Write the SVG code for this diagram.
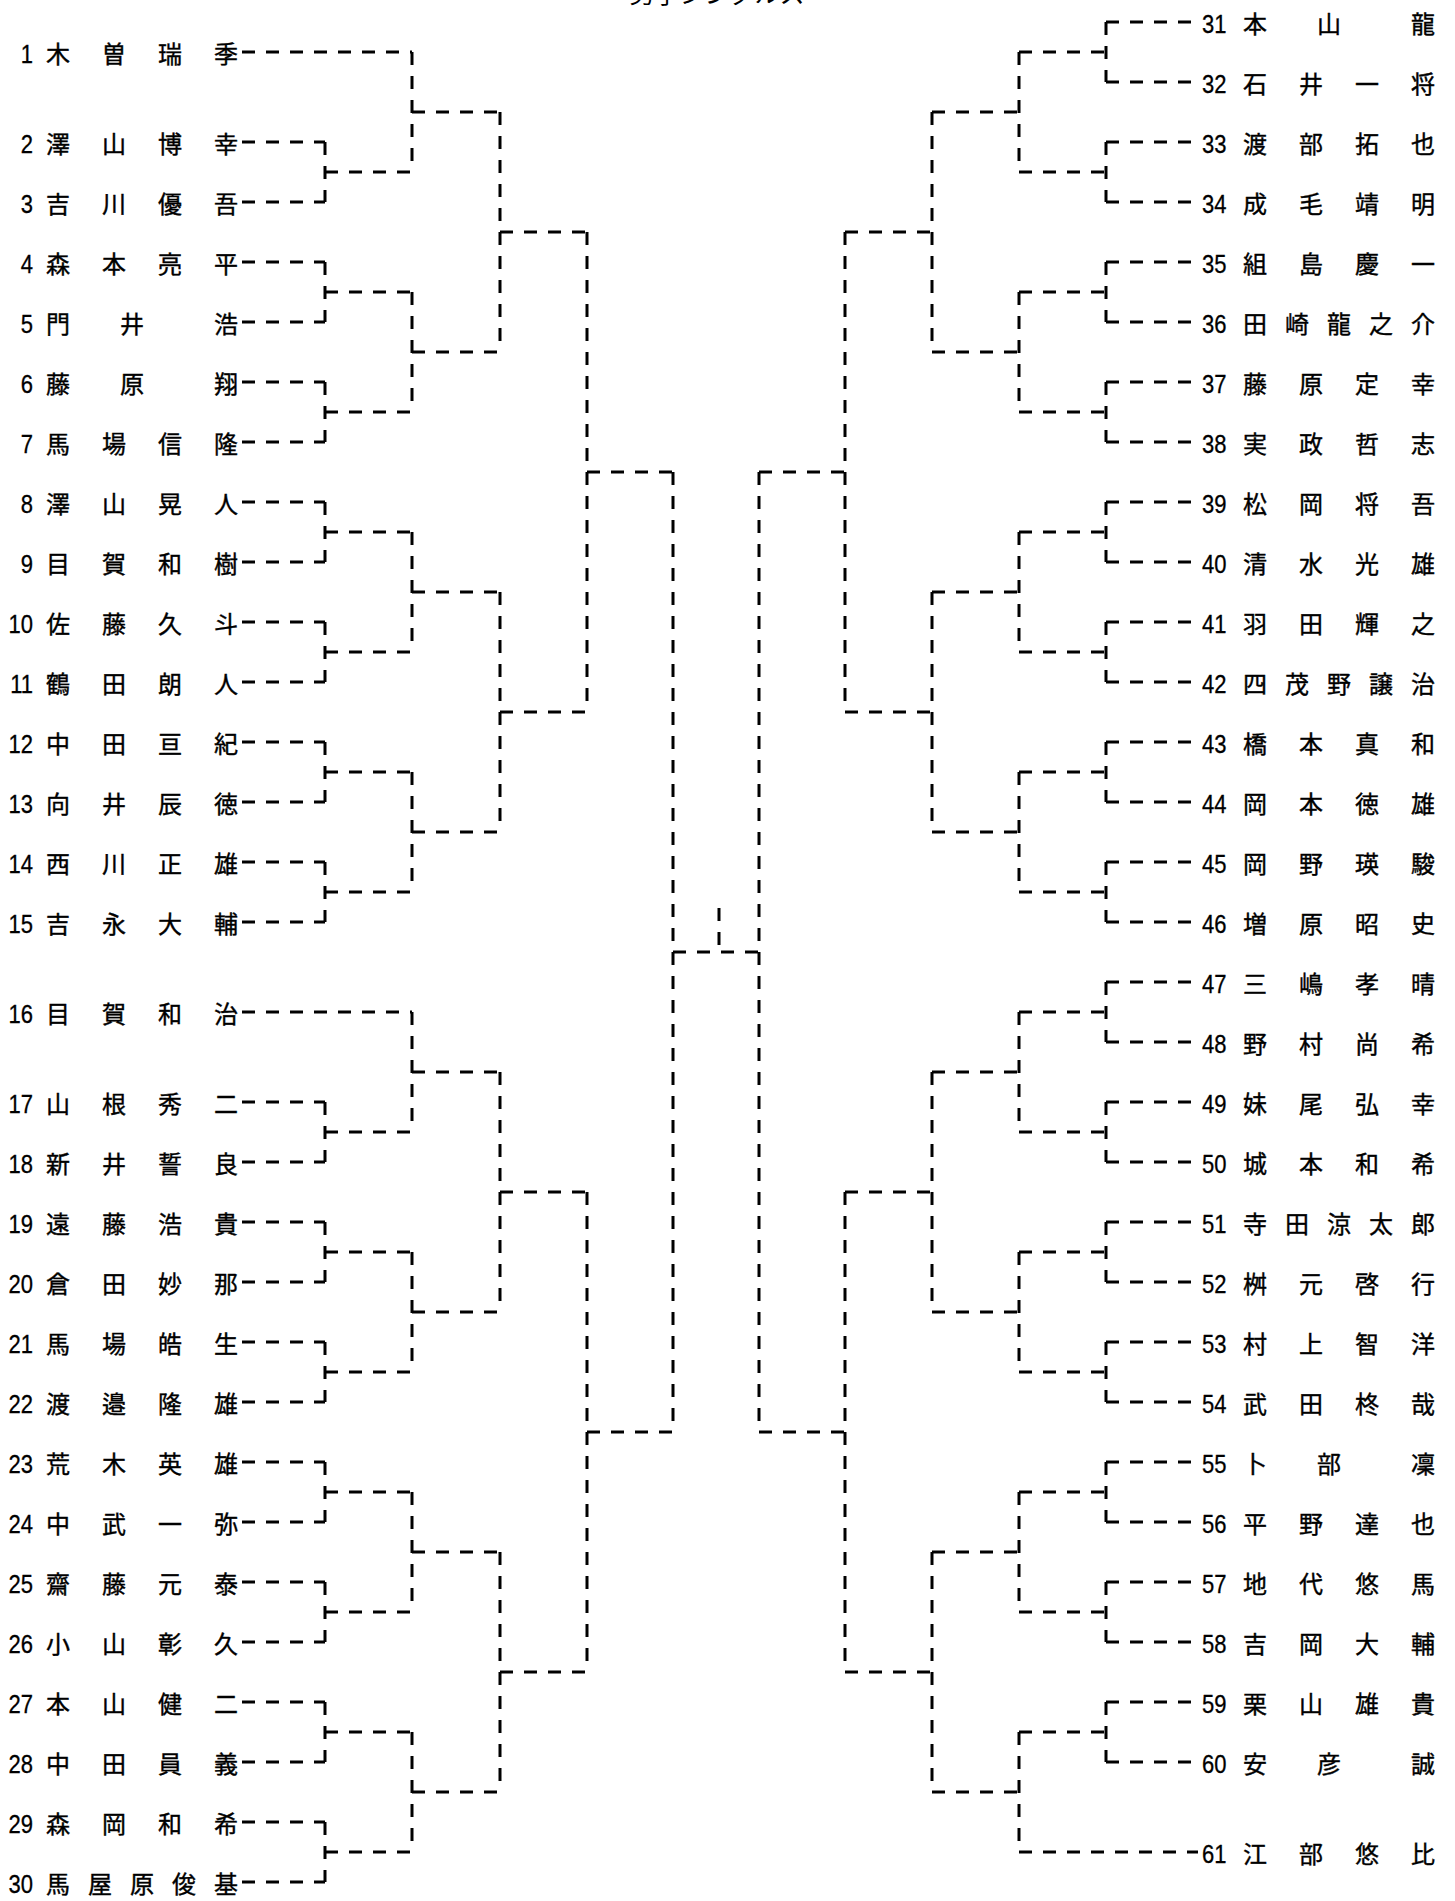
<svg xmlns="http://www.w3.org/2000/svg" width="1455" height="1901" viewBox="0 0 1455 1901">
<style>
.c{fill:none;stroke:#000;stroke-width:3;stroke-dasharray:13 11}
.n{font-family:"Liberation Sans",sans-serif;font-size:25px;fill:#000;stroke:#000;stroke-width:.3;transform:scaleX(.88);transform-box:fill-box;transform-origin:0% 50%}
.m{font-family:"Noto Sans CJK JP",sans-serif;font-size:24px;fill:#000;stroke:#000;stroke-width:.4}
.r{text-anchor:end;transform-origin:100% 50%}
.t{font-family:"Noto Sans CJK JP",sans-serif;font-size:25px;text-anchor:middle;fill:#000}
</style>
<rect width="1455" height="1901" fill="#fff"/>
<text class="t" x="717" y="3">男子シングルス</text>
<g id="connectors">
<path class="c" d="M242 52H412 M242 142H325 M242 202H325 M242 262H325 M242 322H325 M242 382H325 M242 442H325 M242 502H325 M242 562H325 M242 622H325 M242 682H325 M242 742H325 M242 802H325 M242 862H325 M242 922H325 M242 1012H412 M242 1102H325 M242 1162H325 M242 1222H325 M242 1282H325 M242 1342H325 M242 1402H325 M242 1462H325 M242 1522H325 M242 1582H325 M242 1642H325 M242 1702H325 M242 1762H325 M242 1822H325 M242 1882H325"/>
<path class="c" d="M325 142V202 M325 262V322 M325 382V442 M325 502V562 M325 622V682 M325 742V802 M325 862V922 M325 1102V1162 M325 1222V1282 M325 1342V1402 M325 1462V1522 M325 1582V1642 M325 1702V1762 M325 1822V1882"/>
<path class="c" d="M325 172H412 M325 292H412 M325 412H412 M325 532H412 M325 652H412 M325 772H412 M325 892H412 M325 1132H412 M325 1252H412 M325 1372H412 M325 1492H412 M325 1612H412 M325 1732H412 M325 1852H412"/>
<path class="c" d="M412 52V172 M412 292V412 M412 532V652 M412 772V892 M412 1012V1132 M412 1252V1372 M412 1492V1612 M412 1732V1852"/>
<path class="c" d="M412 112H500 M412 352H500 M412 592H500 M412 832H500 M412 1072H500 M412 1312H500 M412 1552H500 M412 1792H500"/>
<path class="c" d="M500 112V352 M500 592V832 M500 1072V1312 M500 1552V1792"/>
<path class="c" d="M500 232H587 M500 712H587 M500 1192H587 M500 1672H587"/>
<path class="c" d="M587 232V712 M587 1192V1672"/>
<path class="c" d="M587 472H673 M587 1432H673"/>
<path class="c" d="M673 472V1432"/>
<path class="c" d="M673 952H759 M719 908V952"/>
<path class="c" d="M759 472V1432"/>
<path class="c" d="M759 472H845 M759 1432H845"/>
<path class="c" d="M845 232V712 M845 1192V1672"/>
<path class="c" d="M845 232H932 M845 712H932 M845 1192H932 M845 1672H932"/>
<path class="c" d="M932 112V352 M932 592V832 M932 1072V1312 M932 1552V1792"/>
<path class="c" d="M932 112H1019 M932 352H1019 M932 592H1019 M932 832H1019 M932 1072H1019 M932 1312H1019 M932 1552H1019 M932 1792H1019"/>
<path class="c" d="M1019 52V172 M1019 292V412 M1019 532V652 M1019 772V892 M1019 1012V1132 M1019 1252V1372 M1019 1492V1612 M1019 1732V1852"/>
<path class="c" d="M1019 52H1106 M1019 172H1106 M1019 292H1106 M1019 412H1106 M1019 532H1106 M1019 652H1106 M1019 772H1106 M1019 892H1106 M1019 1012H1106 M1019 1132H1106 M1019 1252H1106 M1019 1372H1106 M1019 1492H1106 M1019 1612H1106 M1019 1732H1106"/>
<path class="c" d="M1106 22V82 M1106 142V202 M1106 262V322 M1106 382V442 M1106 502V562 M1106 622V682 M1106 742V802 M1106 862V922 M1106 982V1042 M1106 1102V1162 M1106 1222V1282 M1106 1342V1402 M1106 1462V1522 M1106 1582V1642 M1106 1702V1762"/>
<path class="c" d="M1106 22H1192 M1106 82H1192 M1106 142H1192 M1106 202H1192 M1106 262H1192 M1106 322H1192 M1106 382H1192 M1106 442H1192 M1106 502H1192 M1106 562H1192 M1106 622H1192 M1106 682H1192 M1106 742H1192 M1106 802H1192 M1106 862H1192 M1106 922H1192 M1106 982H1192 M1106 1042H1192 M1106 1102H1192 M1106 1162H1192 M1106 1222H1192 M1106 1282H1192 M1106 1342H1192 M1106 1402H1192 M1106 1462H1192 M1106 1522H1192 M1106 1582H1192 M1106 1642H1192 M1106 1702H1192 M1106 1762H1192 M1019 1852H1198"/>
</g>
<g id="p1"><text class="n r" x="33" y="63">1</text><text class="m" y="63"><tspan x="46">木</tspan><tspan x="102">曽</tspan><tspan x="158">瑞</tspan><tspan x="214">季</tspan></text></g>
<g id="p2"><text class="n r" x="33" y="153">2</text><text class="m" y="153"><tspan x="46">澤</tspan><tspan x="102">山</tspan><tspan x="158">博</tspan><tspan x="214">幸</tspan></text></g>
<g id="p3"><text class="n r" x="33" y="213">3</text><text class="m" y="213"><tspan x="46">吉</tspan><tspan x="102">川</tspan><tspan x="158">優</tspan><tspan x="214">吾</tspan></text></g>
<g id="p4"><text class="n r" x="33" y="273">4</text><text class="m" y="273"><tspan x="46">森</tspan><tspan x="102">本</tspan><tspan x="158">亮</tspan><tspan x="214">平</tspan></text></g>
<g id="p5"><text class="n r" x="33" y="333">5</text><text class="m" y="333"><tspan x="46">門</tspan><tspan x="120">井</tspan><tspan x="214">浩</tspan></text></g>
<g id="p6"><text class="n r" x="33" y="393">6</text><text class="m" y="393"><tspan x="46">藤</tspan><tspan x="120">原</tspan><tspan x="214">翔</tspan></text></g>
<g id="p7"><text class="n r" x="33" y="453">7</text><text class="m" y="453"><tspan x="46">馬</tspan><tspan x="102">場</tspan><tspan x="158">信</tspan><tspan x="214">隆</tspan></text></g>
<g id="p8"><text class="n r" x="33" y="513">8</text><text class="m" y="513"><tspan x="46">澤</tspan><tspan x="102">山</tspan><tspan x="158">晃</tspan><tspan x="214">人</tspan></text></g>
<g id="p9"><text class="n r" x="33" y="573">9</text><text class="m" y="573"><tspan x="46">目</tspan><tspan x="102">賀</tspan><tspan x="158">和</tspan><tspan x="214">樹</tspan></text></g>
<g id="p10"><text class="n r" x="33" y="633">10</text><text class="m" y="633"><tspan x="46">佐</tspan><tspan x="102">藤</tspan><tspan x="158">久</tspan><tspan x="214">斗</tspan></text></g>
<g id="p11"><text class="n r" x="33" y="693">11</text><text class="m" y="693"><tspan x="46">鶴</tspan><tspan x="102">田</tspan><tspan x="158">朗</tspan><tspan x="214">人</tspan></text></g>
<g id="p12"><text class="n r" x="33" y="753">12</text><text class="m" y="753"><tspan x="46">中</tspan><tspan x="102">田</tspan><tspan x="158">亘</tspan><tspan x="214">紀</tspan></text></g>
<g id="p13"><text class="n r" x="33" y="813">13</text><text class="m" y="813"><tspan x="46">向</tspan><tspan x="102">井</tspan><tspan x="158">辰</tspan><tspan x="214">徳</tspan></text></g>
<g id="p14"><text class="n r" x="33" y="873">14</text><text class="m" y="873"><tspan x="46">西</tspan><tspan x="102">川</tspan><tspan x="158">正</tspan><tspan x="214">雄</tspan></text></g>
<g id="p15"><text class="n r" x="33" y="933">15</text><text class="m" y="933"><tspan x="46">吉</tspan><tspan x="102">永</tspan><tspan x="158">大</tspan><tspan x="214">輔</tspan></text></g>
<g id="p16"><text class="n r" x="33" y="1023">16</text><text class="m" y="1023"><tspan x="46">目</tspan><tspan x="102">賀</tspan><tspan x="158">和</tspan><tspan x="214">治</tspan></text></g>
<g id="p17"><text class="n r" x="33" y="1113">17</text><text class="m" y="1113"><tspan x="46">山</tspan><tspan x="102">根</tspan><tspan x="158">秀</tspan><tspan x="214">二</tspan></text></g>
<g id="p18"><text class="n r" x="33" y="1173">18</text><text class="m" y="1173"><tspan x="46">新</tspan><tspan x="102">井</tspan><tspan x="158">誓</tspan><tspan x="214">良</tspan></text></g>
<g id="p19"><text class="n r" x="33" y="1233">19</text><text class="m" y="1233"><tspan x="46">遠</tspan><tspan x="102">藤</tspan><tspan x="158">浩</tspan><tspan x="214">貴</tspan></text></g>
<g id="p20"><text class="n r" x="33" y="1293">20</text><text class="m" y="1293"><tspan x="46">倉</tspan><tspan x="102">田</tspan><tspan x="158">妙</tspan><tspan x="214">那</tspan></text></g>
<g id="p21"><text class="n r" x="33" y="1353">21</text><text class="m" y="1353"><tspan x="46">馬</tspan><tspan x="102">場</tspan><tspan x="158">皓</tspan><tspan x="214">生</tspan></text></g>
<g id="p22"><text class="n r" x="33" y="1413">22</text><text class="m" y="1413"><tspan x="46">渡</tspan><tspan x="102">邉</tspan><tspan x="158">隆</tspan><tspan x="214">雄</tspan></text></g>
<g id="p23"><text class="n r" x="33" y="1473">23</text><text class="m" y="1473"><tspan x="46">荒</tspan><tspan x="102">木</tspan><tspan x="158">英</tspan><tspan x="214">雄</tspan></text></g>
<g id="p24"><text class="n r" x="33" y="1533">24</text><text class="m" y="1533"><tspan x="46">中</tspan><tspan x="102">武</tspan><tspan x="158">一</tspan><tspan x="214">弥</tspan></text></g>
<g id="p25"><text class="n r" x="33" y="1593">25</text><text class="m" y="1593"><tspan x="46">齋</tspan><tspan x="102">藤</tspan><tspan x="158">元</tspan><tspan x="214">泰</tspan></text></g>
<g id="p26"><text class="n r" x="33" y="1653">26</text><text class="m" y="1653"><tspan x="46">小</tspan><tspan x="102">山</tspan><tspan x="158">彰</tspan><tspan x="214">久</tspan></text></g>
<g id="p27"><text class="n r" x="33" y="1713">27</text><text class="m" y="1713"><tspan x="46">本</tspan><tspan x="102">山</tspan><tspan x="158">健</tspan><tspan x="214">二</tspan></text></g>
<g id="p28"><text class="n r" x="33" y="1773">28</text><text class="m" y="1773"><tspan x="46">中</tspan><tspan x="102">田</tspan><tspan x="158">員</tspan><tspan x="214">義</tspan></text></g>
<g id="p29"><text class="n r" x="33" y="1833">29</text><text class="m" y="1833"><tspan x="46">森</tspan><tspan x="102">岡</tspan><tspan x="158">和</tspan><tspan x="214">希</tspan></text></g>
<g id="p30"><text class="n r" x="33" y="1893">30</text><text class="m" y="1893"><tspan x="46">馬</tspan><tspan x="88">屋</tspan><tspan x="130">原</tspan><tspan x="172">俊</tspan><tspan x="214">基</tspan></text></g>
<g id="p31"><text class="n" x="1202" y="33">31</text><text class="m" y="33"><tspan x="1243">本</tspan><tspan x="1317">山</tspan><tspan x="1411">龍</tspan></text></g>
<g id="p32"><text class="n" x="1202" y="93">32</text><text class="m" y="93"><tspan x="1243">石</tspan><tspan x="1299">井</tspan><tspan x="1355">一</tspan><tspan x="1411">将</tspan></text></g>
<g id="p33"><text class="n" x="1202" y="153">33</text><text class="m" y="153"><tspan x="1243">渡</tspan><tspan x="1299">部</tspan><tspan x="1355">拓</tspan><tspan x="1411">也</tspan></text></g>
<g id="p34"><text class="n" x="1202" y="213">34</text><text class="m" y="213"><tspan x="1243">成</tspan><tspan x="1299">毛</tspan><tspan x="1355">靖</tspan><tspan x="1411">明</tspan></text></g>
<g id="p35"><text class="n" x="1202" y="273">35</text><text class="m" y="273"><tspan x="1243">組</tspan><tspan x="1299">島</tspan><tspan x="1355">慶</tspan><tspan x="1411">一</tspan></text></g>
<g id="p36"><text class="n" x="1202" y="333">36</text><text class="m" y="333"><tspan x="1243">田</tspan><tspan x="1285">崎</tspan><tspan x="1327">龍</tspan><tspan x="1369">之</tspan><tspan x="1411">介</tspan></text></g>
<g id="p37"><text class="n" x="1202" y="393">37</text><text class="m" y="393"><tspan x="1243">藤</tspan><tspan x="1299">原</tspan><tspan x="1355">定</tspan><tspan x="1411">幸</tspan></text></g>
<g id="p38"><text class="n" x="1202" y="453">38</text><text class="m" y="453"><tspan x="1243">実</tspan><tspan x="1299">政</tspan><tspan x="1355">哲</tspan><tspan x="1411">志</tspan></text></g>
<g id="p39"><text class="n" x="1202" y="513">39</text><text class="m" y="513"><tspan x="1243">松</tspan><tspan x="1299">岡</tspan><tspan x="1355">将</tspan><tspan x="1411">吾</tspan></text></g>
<g id="p40"><text class="n" x="1202" y="573">40</text><text class="m" y="573"><tspan x="1243">清</tspan><tspan x="1299">水</tspan><tspan x="1355">光</tspan><tspan x="1411">雄</tspan></text></g>
<g id="p41"><text class="n" x="1202" y="633">41</text><text class="m" y="633"><tspan x="1243">羽</tspan><tspan x="1299">田</tspan><tspan x="1355">輝</tspan><tspan x="1411">之</tspan></text></g>
<g id="p42"><text class="n" x="1202" y="693">42</text><text class="m" y="693"><tspan x="1243">四</tspan><tspan x="1285">茂</tspan><tspan x="1327">野</tspan><tspan x="1369">譲</tspan><tspan x="1411">治</tspan></text></g>
<g id="p43"><text class="n" x="1202" y="753">43</text><text class="m" y="753"><tspan x="1243">橋</tspan><tspan x="1299">本</tspan><tspan x="1355">真</tspan><tspan x="1411">和</tspan></text></g>
<g id="p44"><text class="n" x="1202" y="813">44</text><text class="m" y="813"><tspan x="1243">岡</tspan><tspan x="1299">本</tspan><tspan x="1355">徳</tspan><tspan x="1411">雄</tspan></text></g>
<g id="p45"><text class="n" x="1202" y="873">45</text><text class="m" y="873"><tspan x="1243">岡</tspan><tspan x="1299">野</tspan><tspan x="1355">瑛</tspan><tspan x="1411">駿</tspan></text></g>
<g id="p46"><text class="n" x="1202" y="933">46</text><text class="m" y="933"><tspan x="1243">増</tspan><tspan x="1299">原</tspan><tspan x="1355">昭</tspan><tspan x="1411">史</tspan></text></g>
<g id="p47"><text class="n" x="1202" y="993">47</text><text class="m" y="993"><tspan x="1243">三</tspan><tspan x="1299">嶋</tspan><tspan x="1355">孝</tspan><tspan x="1411">晴</tspan></text></g>
<g id="p48"><text class="n" x="1202" y="1053">48</text><text class="m" y="1053"><tspan x="1243">野</tspan><tspan x="1299">村</tspan><tspan x="1355">尚</tspan><tspan x="1411">希</tspan></text></g>
<g id="p49"><text class="n" x="1202" y="1113">49</text><text class="m" y="1113"><tspan x="1243">妹</tspan><tspan x="1299">尾</tspan><tspan x="1355">弘</tspan><tspan x="1411">幸</tspan></text></g>
<g id="p50"><text class="n" x="1202" y="1173">50</text><text class="m" y="1173"><tspan x="1243">城</tspan><tspan x="1299">本</tspan><tspan x="1355">和</tspan><tspan x="1411">希</tspan></text></g>
<g id="p51"><text class="n" x="1202" y="1233">51</text><text class="m" y="1233"><tspan x="1243">寺</tspan><tspan x="1285">田</tspan><tspan x="1327">涼</tspan><tspan x="1369">太</tspan><tspan x="1411">郎</tspan></text></g>
<g id="p52"><text class="n" x="1202" y="1293">52</text><text class="m" y="1293"><tspan x="1243">桝</tspan><tspan x="1299">元</tspan><tspan x="1355">啓</tspan><tspan x="1411">行</tspan></text></g>
<g id="p53"><text class="n" x="1202" y="1353">53</text><text class="m" y="1353"><tspan x="1243">村</tspan><tspan x="1299">上</tspan><tspan x="1355">智</tspan><tspan x="1411">洋</tspan></text></g>
<g id="p54"><text class="n" x="1202" y="1413">54</text><text class="m" y="1413"><tspan x="1243">武</tspan><tspan x="1299">田</tspan><tspan x="1355">柊</tspan><tspan x="1411">哉</tspan></text></g>
<g id="p55"><text class="n" x="1202" y="1473">55</text><text class="m" y="1473"><tspan x="1243">卜</tspan><tspan x="1317">部</tspan><tspan x="1411">凜</tspan></text></g>
<g id="p56"><text class="n" x="1202" y="1533">56</text><text class="m" y="1533"><tspan x="1243">平</tspan><tspan x="1299">野</tspan><tspan x="1355">達</tspan><tspan x="1411">也</tspan></text></g>
<g id="p57"><text class="n" x="1202" y="1593">57</text><text class="m" y="1593"><tspan x="1243">地</tspan><tspan x="1299">代</tspan><tspan x="1355">悠</tspan><tspan x="1411">馬</tspan></text></g>
<g id="p58"><text class="n" x="1202" y="1653">58</text><text class="m" y="1653"><tspan x="1243">吉</tspan><tspan x="1299">岡</tspan><tspan x="1355">大</tspan><tspan x="1411">輔</tspan></text></g>
<g id="p59"><text class="n" x="1202" y="1713">59</text><text class="m" y="1713"><tspan x="1243">栗</tspan><tspan x="1299">山</tspan><tspan x="1355">雄</tspan><tspan x="1411">貴</tspan></text></g>
<g id="p60"><text class="n" x="1202" y="1773">60</text><text class="m" y="1773"><tspan x="1243">安</tspan><tspan x="1317">彦</tspan><tspan x="1411">誠</tspan></text></g>
<g id="p61"><text class="n" x="1202" y="1863">61</text><text class="m" y="1863"><tspan x="1243">江</tspan><tspan x="1299">部</tspan><tspan x="1355">悠</tspan><tspan x="1411">比</tspan></text></g>
</svg>
